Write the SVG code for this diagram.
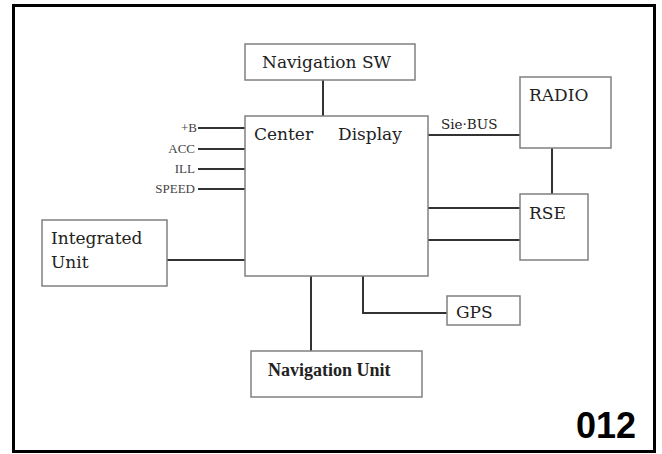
<svg xmlns="http://www.w3.org/2000/svg" width="662" height="454" viewBox="0 0 662 454">
<style>
.box{fill:#fff;stroke:#808080;stroke-width:1.5}
.ln{stroke:#333;stroke-width:2;fill:none}
.t{font-family:'DejaVu Serif','Liberation Serif',serif;font-size:17px;fill:#222}
.s{font-family:'Liberation Serif','DejaVu Serif',serif;font-size:13px;fill:#444}
</style>
<rect x="0" y="0" width="662" height="454" fill="#fff"/>
<rect x="13.5" y="5.5" width="641" height="446" fill="none" stroke="#000" stroke-width="3"/>
<g id="connectors">
<line class="ln" x1="323" y1="80" x2="323" y2="116"/>
<line class="ln" x1="198" y1="128" x2="245" y2="128"/>
<line class="ln" x1="198" y1="149" x2="245" y2="149"/>
<line class="ln" x1="198" y1="169" x2="245" y2="169"/>
<line class="ln" x1="198" y1="189" x2="245" y2="189"/>
<line class="ln" x1="428" y1="135" x2="520" y2="135"/>
<text x="441" y="129" class="t" style="font-size:13.5px">Sie·BUS</text>
<line class="ln" x1="552" y1="148" x2="552" y2="194"/>
<line class="ln" x1="428" y1="208" x2="520" y2="208"/>
<line class="ln" x1="428" y1="240" x2="520" y2="240"/>
<line class="ln" x1="167" y1="260" x2="245" y2="260"/>
<line class="ln" x1="311" y1="276" x2="311" y2="351"/>
<polyline class="ln" points="363,276 363,313 447,313"/>
</g>
<g id="signals">
<text x="197" y="132" class="s" text-anchor="end">+B</text>
<text x="195" y="153" class="s" text-anchor="end">ACC</text>
<text x="195" y="173" class="s" text-anchor="end">ILL</text>
<text x="195" y="193" class="s" text-anchor="end">SPEED</text>
</g>
<g id="navsw"><rect class="box" x="245" y="44" width="170" height="36"/><text x="262" y="68" class="t">Navigation SW</text></g>
<g id="center"><rect class="box" x="245" y="116" width="183" height="160"/><text x="254" y="140" class="t">Center</text><text x="338" y="140" class="t">Display</text></g>
<g id="radio"><rect class="box" x="520" y="77" width="91" height="71"/><text x="529" y="101" class="t">RADIO</text></g>
<g id="rse"><rect class="box" x="520" y="194" width="68" height="66"/><text x="529" y="219" class="t">RSE</text></g>
<g id="integrated"><rect class="box" x="42" y="220" width="125" height="66"/><text x="51" y="244" class="t">Integrated</text><text x="51" y="268" class="t">Unit</text></g>
<g id="navunit"><rect class="box" x="251" y="351" width="171" height="46"/><text x="268" y="376" font-family="'Liberation Serif','Times New Roman',serif" font-size="18" font-weight="bold" fill="#222">Navigation Unit</text></g>
<g id="gps"><rect class="box" x="447" y="296" width="73" height="29"/><text x="456" y="318" class="t">GPS</text></g>
<text x="576" y="438" font-family="'Liberation Sans', Arial, sans-serif" font-weight="bold" font-size="36" fill="#000">012</text>
</svg>
